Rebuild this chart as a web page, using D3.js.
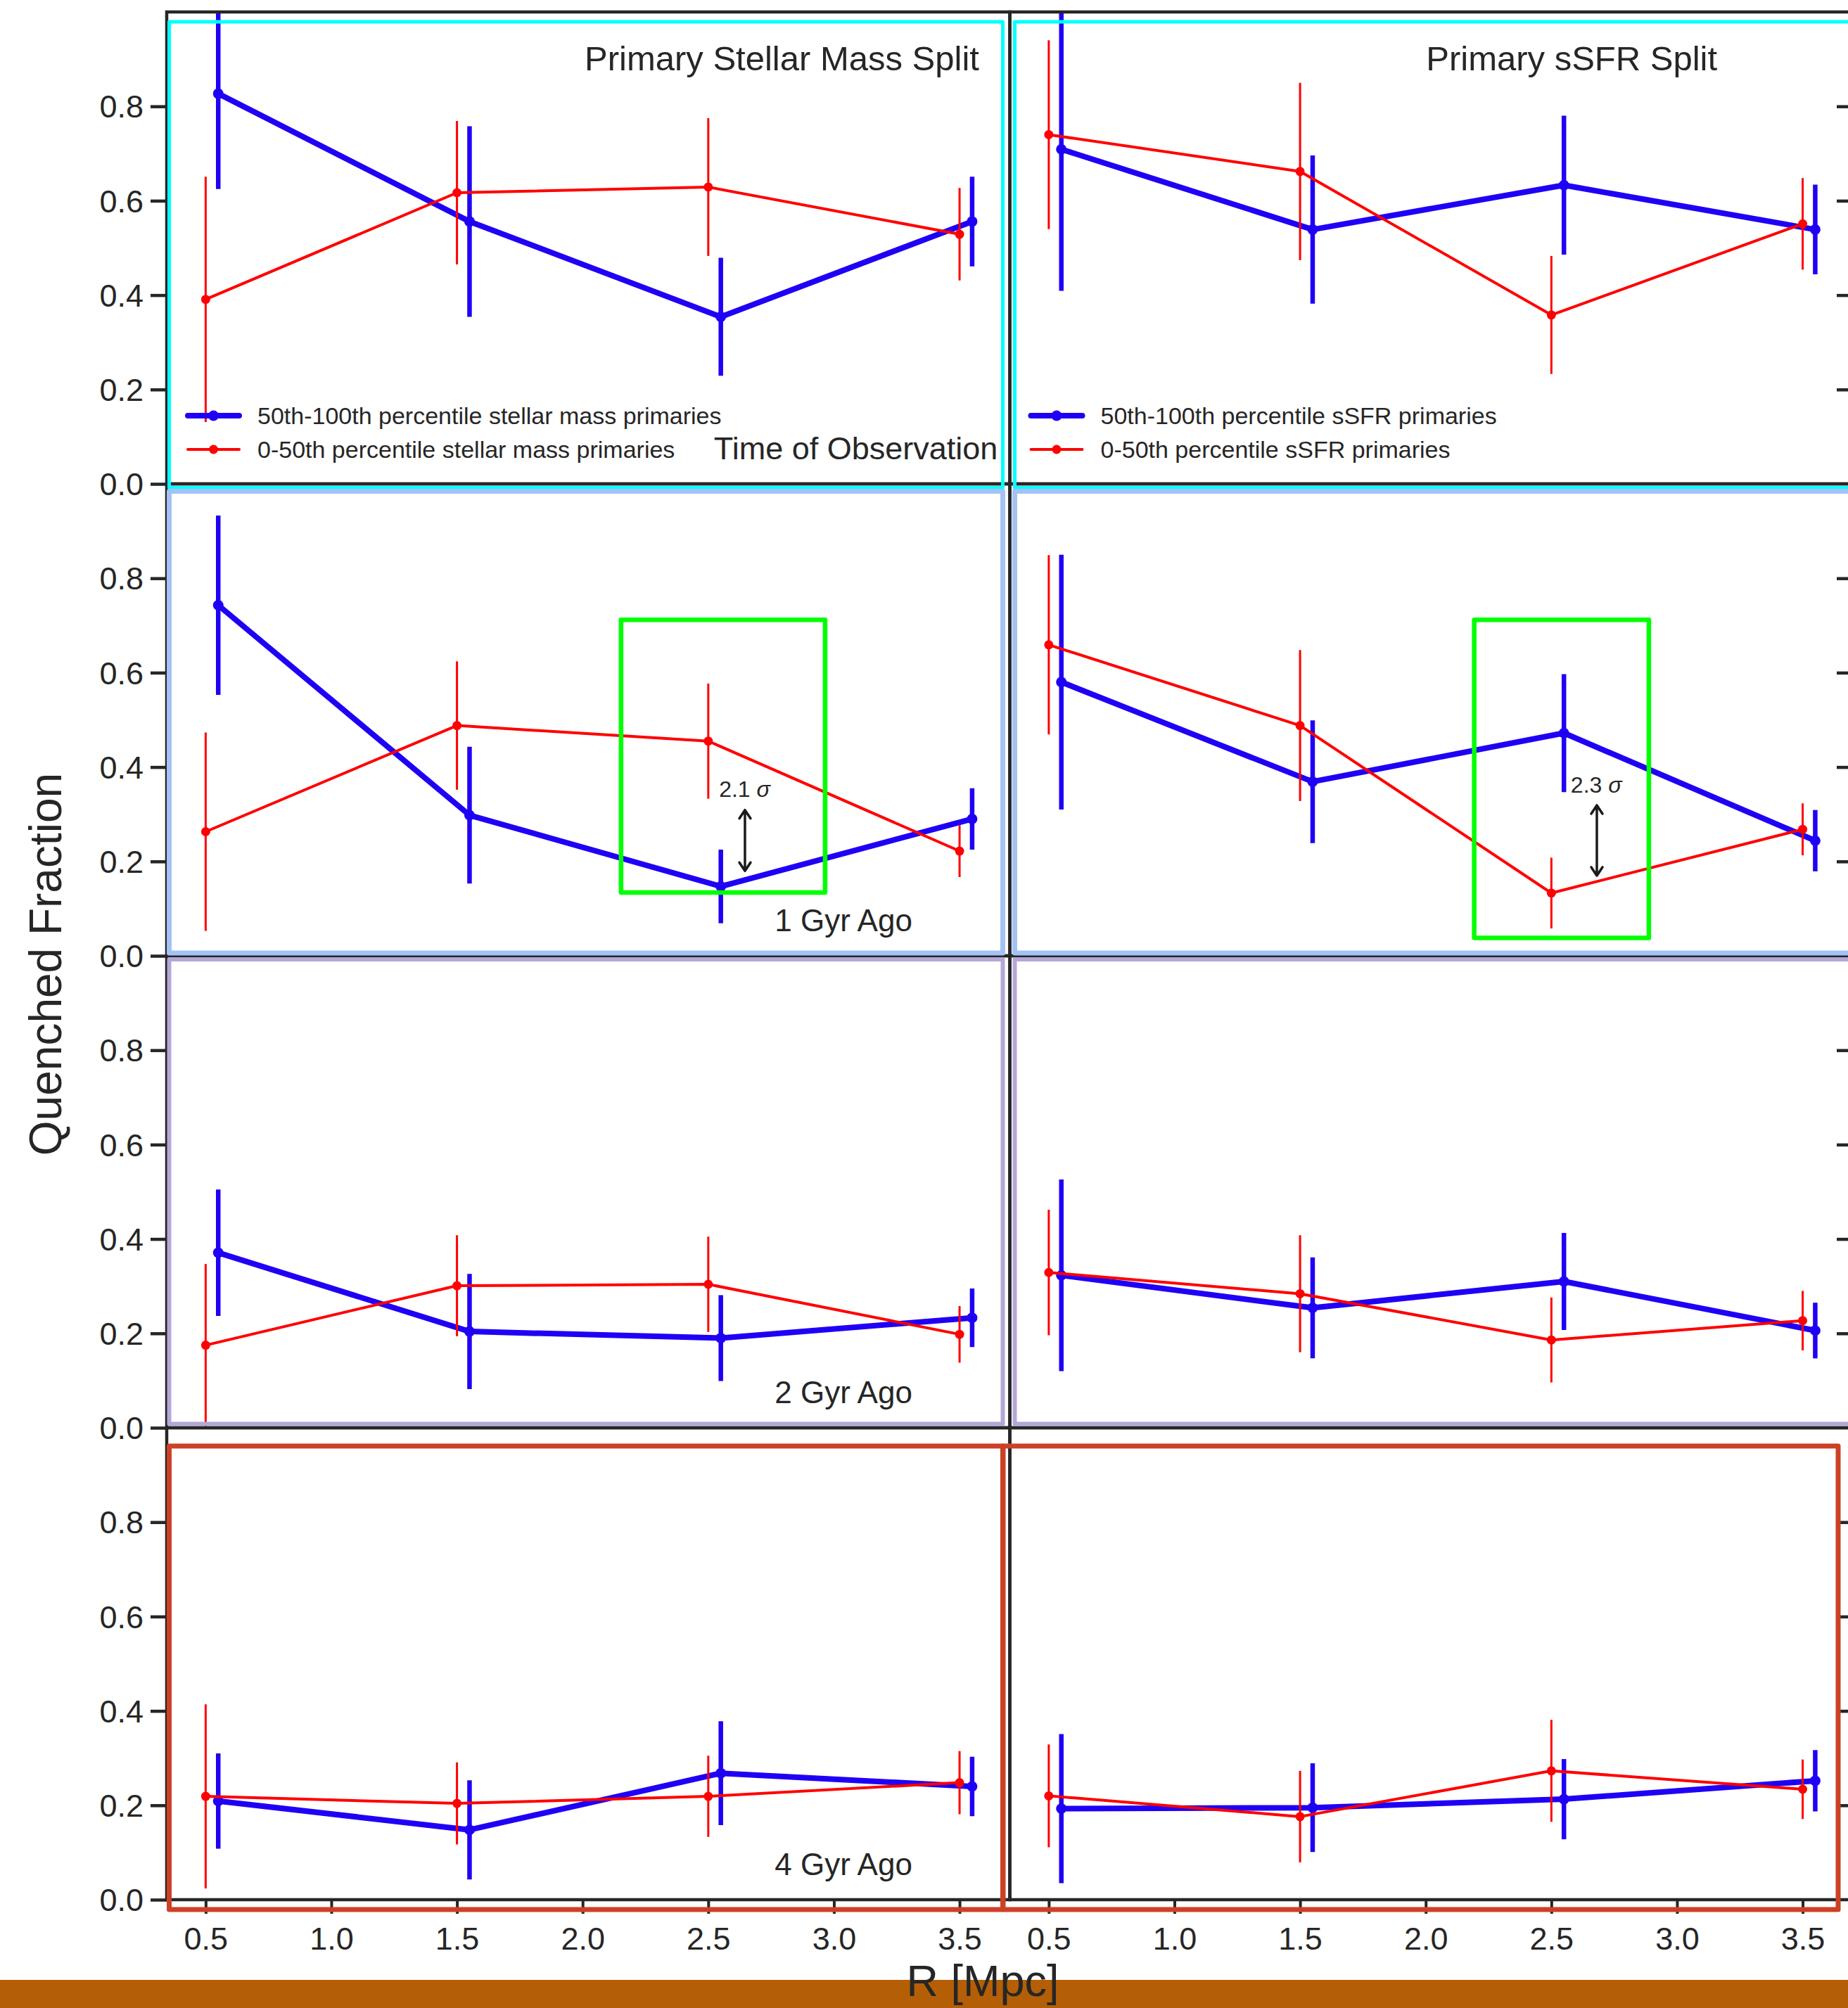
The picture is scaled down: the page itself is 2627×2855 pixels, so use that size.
<!DOCTYPE html>
<html>
<head>
<meta charset="utf-8">
<script src="https://cdn.jsdelivr.net/npm/d3@7"></script>
<style>
  html, body { margin: 0; padding: 0; background: #ffffff; }
  svg { display: block; }
  text { font-family: "Liberation Sans", Arial, Helvetica, sans-serif; fill: #262626; }
</style>
</head>
<body>
<div id="chart"></div>
<script>
// ---- data -------------------------------------------------------------
// projected radius of the bins (red series sits at the bin, blue is nudged right)
const radiusLow  = [0.5, 1.5, 2.5, 3.5];
const radiusHigh = [0.55, 1.55, 2.55, 3.55];

// rows: time of observation, 1, 2 and 4 Gyr ago
const rowLabels = ["Time of Observation", "1 Gyr Ago", "2 Gyr Ago", "4 Gyr Ago"];
const colTitles = ["Primary Stellar Mass Split", "Primary sSFR Split"];
const legendLabels = [
  ["50th-100th percentile stellar mass primaries", "0-50th percentile stellar mass primaries"],
  ["50th-100th percentile sSFR primaries", "0-50th percentile sSFR primaries"]
];

// quenched fraction, stellar-mass split
const massHigh = [
  [0.827, 0.556, 0.354, 0.556],
  [0.743, 0.298, 0.147, 0.290],
  [0.371, 0.204, 0.190, 0.233],
  [0.209, 0.148, 0.268, 0.240]
];
const massHighErr = [
  [0.202, 0.202, 0.125, 0.095],
  [0.190, 0.145, 0.078, 0.065],
  [0.134, 0.122, 0.091, 0.062],
  [0.101, 0.105, 0.110, 0.063]
];
const massLow = [
  [0.391, 0.617, 0.629, 0.529],
  [0.263, 0.488, 0.455, 0.222],
  [0.175, 0.301, 0.304, 0.198],
  [0.219, 0.204, 0.219, 0.248]
];
const massLowErr = [
  [0.260, 0.152, 0.146, 0.098],
  [0.210, 0.136, 0.122, 0.055],
  [0.172, 0.107, 0.101, 0.060],
  [0.195, 0.087, 0.086, 0.067]
];

// quenched fraction, sSFR split
const ssfrHigh = [
  [0.709, 0.539, 0.633, 0.539],
  [0.580, 0.369, 0.472, 0.244],
  [0.323, 0.254, 0.310, 0.206],
  [0.193, 0.195, 0.213, 0.252]
];
const ssfrHighErr = [
  [0.300, 0.157, 0.147, 0.095],
  [0.270, 0.130, 0.125, 0.065],
  [0.203, 0.107, 0.103, 0.059],
  [0.158, 0.094, 0.085, 0.065]
];
const ssfrLow = [
  [0.740, 0.662, 0.358, 0.551],
  [0.659, 0.488, 0.133, 0.268],
  [0.329, 0.284, 0.186, 0.227],
  [0.220, 0.176, 0.273, 0.234]
];
const ssfrLowErr = [
  [0.200, 0.188, 0.125, 0.097],
  [0.190, 0.160, 0.075, 0.055],
  [0.133, 0.124, 0.090, 0.063],
  [0.109, 0.097, 0.108, 0.063]
];

// significance call-outs in the 1 Gyr row
const sigmaLabels = ["2.1", "2.3"];

const yTicks = [0, 0.2, 0.4, 0.6, 0.8];
const xTicks = [0.5, 1.0, 1.5, 2.0, 2.5, 3.0, 3.5];

// ---- layout -----------------------------------------------------------
const W = 2627, H = 2855;
const rowTop0 = 17, rowH = 671;
const colLeft = [237, 1435.5], colW = 1198.5;
const xDomain = [0.345, 3.7];

const BLUE = "#1f00f5", RED = "#ff0000", INK = "#262626";
const frameColors = ["#00ffff", "#a4c2f4", "#b4a7d6", "#cc4125"];

const svg = d3.select("#chart").append("svg")
  .attr("width", W).attr("height", H)
  .attr("viewBox", `0 0 ${W} ${H}`);
svg.append("rect").attr("width", W).attr("height", H).attr("fill", "#fff");

const defs = svg.append("defs");

const panels = [
  { hi: massHigh, hiErr: massHighErr, lo: massLow, loErr: massLowErr },
  { hi: ssfrHigh, hiErr: ssfrHighErr, lo: ssfrLow, loErr: ssfrLowErr }
];

function scalesFor(row, col) {
  const top = rowTop0 + row * rowH;
  const x = d3.scaleLinear().domain(xDomain).range([colLeft[col], colLeft[col] + colW]);
  const y = d3.scaleLinear().domain([0, 1]).range([top + rowH, top]);
  return { x, y, top, bottom: top + rowH, left: colLeft[col], right: colLeft[col] + colW };
}

function drawSeries(g, s, xs, vals, errs, color, lw, ebw, r) {
  const pts = xs.map((d, i) => ({ x: d, v: vals[i], e: errs[i] }));
  g.append("g").selectAll("line").data(pts).join("line")
    .attr("x1", d => s.x(d.x)).attr("x2", d => s.x(d.x))
    .attr("y1", d => s.y(d.v - d.e)).attr("y2", d => s.y(d.v + d.e))
    .attr("stroke", color).attr("stroke-width", ebw);
  g.append("path").datum(pts)
    .attr("d", d3.line().x(d => s.x(d.x)).y(d => s.y(d.v)))
    .attr("fill", "none").attr("stroke", color).attr("stroke-width", lw)
    .attr("stroke-linejoin", "round");
  g.append("g").selectAll("circle").data(pts).join("circle")
    .attr("cx", d => s.x(d.x)).attr("cy", d => s.y(d.v)).attr("r", r)
    .attr("fill", color);
}

const overlay = [];

for (let row = 0; row < 4; row++) {
  for (let col = 0; col < 2; col++) {
    const s = scalesFor(row, col);
    const p = panels[col];
    const clipId = `clip-${row}-${col}`;
    defs.append("clipPath").attr("id", clipId).append("rect")
      .attr("x", s.left).attr("y", s.top).attr("width", colW).attr("height", rowH);

    const g = svg.append("g").attr("clip-path", `url(#${clipId})`);
    drawSeries(g, s, radiusHigh, p.hi[row], p.hiErr[row], BLUE, 8, 6.5, 7.5);
    drawSeries(g, s, radiusLow, p.lo[row], p.loErr[row], RED, 4, 3, 6.5);

    // frame
    svg.append("rect")
      .attr("x", s.left).attr("y", s.top).attr("width", colW).attr("height", rowH)
      .attr("fill", "none").attr("stroke", INK).attr("stroke-width", 4.5);

    // y axis: labelled on the left column, bare inward ticks on the right column
    if (col === 0) {
      const ax = svg.append("g").attr("transform", `translate(${s.left},0)`)
        .call(d3.axisLeft(s.y).tickValues(yTicks).tickSize(23).tickPadding(10)
          .tickFormat(d3.format(".1f")));
      ax.select(".domain").remove();
      ax.selectAll(".tick line").attr("stroke", INK).attr("stroke-width", 4.5);
      ax.selectAll(".tick text").attr("font-size", 45).attr("fill", INK)
        .attr("font-family", "Liberation Sans, Arial, sans-serif").attr("dy", "0.35em");
    } else {
      const ax = svg.append("g").attr("transform", `translate(${s.right},0)`)
        .call(d3.axisLeft(s.y).tickValues(yTicks.slice(1)).tickSize(23).tickFormat(""));
      ax.select(".domain").remove();
      ax.selectAll(".tick line").attr("stroke", INK).attr("stroke-width", 4.5);
    }

    if (row === 3) {
      const ax = svg.append("g").attr("transform", `translate(0,${s.bottom})`)
        .call(d3.axisBottom(s.x).tickValues(xTicks).tickSize(20).tickPadding(19)
          .tickFormat(d3.format(".1f")));
      ax.select(".domain").remove();
      ax.selectAll(".tick line").attr("stroke", INK).attr("stroke-width", 4);
      ax.selectAll(".tick text").attr("font-size", 45).attr("fill", INK)
        .attr("font-family", "Liberation Sans, Arial, sans-serif");
    }

    // row label inside the left panels
    if (col === 0) {
      svg.append("text")
        .attr("x", s.x(row === 0 ? 3.652 : 3.312)).attr("y", s.y(0.052))
        .attr("text-anchor", "end").attr("font-size", row === 0 ? 45 : 44)
        .text(rowLabels[row]);
    }

    // column titles and legends in the top row
    if (row === 0) {
      svg.append("text")
        .attr("x", s.x(col === 0 ? 3.578 : 3.16)).attr("y", s.y(0.876))
        .attr("text-anchor", "end").attr("font-size", 49)
        .text(colTitles[col]);

      const lg = svg.append("g").attr("transform", `translate(${s.left},${s.top})`);
      const items = [
        { label: legendLabels[col][0], color: BLUE, lw: 8, r: 7.5, y: 574 },
        { label: legendLabels[col][1], color: RED, lw: 4, r: 6.5, y: 622 }
      ];
      items.forEach(it => {
        lg.append("line").attr("x1", 30).attr("x2", 103).attr("y1", it.y).attr("y2", it.y)
          .attr("stroke", it.color).attr("stroke-width", it.lw).attr("stroke-linecap", "round");
        lg.append("circle").attr("cx", 66.5).attr("cy", it.y).attr("r", it.r).attr("fill", it.color);
        lg.append("text").attr("x", 129).attr("y", it.y).attr("dy", "0.35em")
          .attr("font-size", 34).text(it.label);
      });
    }

    overlay.push({ row, col, s });
  }
}

// ---- highlight boxes and significance arrows (1 Gyr row) ----------------
const sigmaBoxes = [
  { x0: 2.153, x1: 2.965, y0: 0.134, y1: 0.712, ax: 2.646, ay0: 0.180, ay1: 0.309, tx: 2.543, ty: 0.337 },
  { x0: 2.193, x1: 2.888, y0: 0.038, y1: 0.712, ax: 2.681, ay0: 0.170, ay1: 0.319, tx: 2.577, ty: 0.346 }
];

sigmaBoxes.forEach((b, col) => {
  const s = scalesFor(1, col);
  svg.append("rect")
    .attr("x", s.x(b.x0)).attr("y", s.y(b.y1))
    .attr("width", s.x(b.x1) - s.x(b.x0)).attr("height", s.y(b.y0) - s.y(b.y1))
    .attr("fill", "none").attr("stroke", "#00ff00").attr("stroke-width", 6.5)
    .attr("stroke-linejoin", "round");

  const ax = s.x(b.ax), yTop = s.y(b.ay1), yBot = s.y(b.ay0);
  const hw = 8, hh = 12;
  const arrow = d3.path();
  arrow.moveTo(ax, yTop); arrow.lineTo(ax, yBot);
  arrow.moveTo(ax - hw, yTop + hh); arrow.lineTo(ax, yTop); arrow.lineTo(ax + hw, yTop + hh);
  arrow.moveTo(ax - hw, yBot - hh); arrow.lineTo(ax, yBot); arrow.lineTo(ax + hw, yBot - hh);
  svg.append("path").attr("d", arrow.toString())
    .attr("fill", "none").attr("stroke", "#1a1a1a").attr("stroke-width", 3.5)
    .attr("stroke-linecap", "round").attr("stroke-linejoin", "round");

  const t = svg.append("text").attr("x", s.x(b.tx)).attr("y", s.y(b.ty))
    .attr("font-size", 32).text(sigmaLabels[col] + " ");
  t.append("tspan").attr("font-style", "italic").text("σ");
});

// ---- coloured outlines around each time step ----------------------------
const outline = svg.append("g").attr("fill", "none").attr("stroke-linejoin", "round");
const outlineInset = [
  { top: 14, bottom: 5.5, lw: 5 },
  { top: 10.5, bottom: -4, lw: 7 },
  { top: 5, bottom: -5.5, lw: 6 },
  { top: 26, bottom: 14, lw: 7 }
];
overlay.forEach(({ row, col, s }) => {
  const o = outlineInset[row];
  const x0 = col === 0 ? s.left + 3.5 : (row === 3 ? s.left - 9.5 : s.left + 7);
  const x1 = col === 0 ? s.right - 10 : (row === 3 ? s.right - 21 : s.right + 20);
  outline.append("rect")
    .attr("x", x0).attr("y", s.top + o.top)
    .attr("width", x1 - x0).attr("height", (s.bottom + o.bottom) - (s.top + o.top))
    .attr("stroke", frameColors[row]).attr("stroke-width", o.lw);
});

// ---- footer band and axis titles ----------------------------------------
svg.append("rect").attr("x", 0).attr("y", 2815).attr("width", W).attr("height", H - 2815)
  .attr("fill", "#b45f06");

svg.append("text")
  .attr("x", 1397).attr("y", 2838).attr("text-anchor", "middle").attr("font-size", 63)
  .text("R [Mpc]");

svg.append("text")
  .attr("transform", `translate(87,${(rowTop0 + rowTop0 + 4 * rowH) / 2 + 12}) rotate(-90)`)
  .attr("text-anchor", "middle").attr("font-size", 64)
  .text("Quenched Fraction");
</script>
</body>
</html>
